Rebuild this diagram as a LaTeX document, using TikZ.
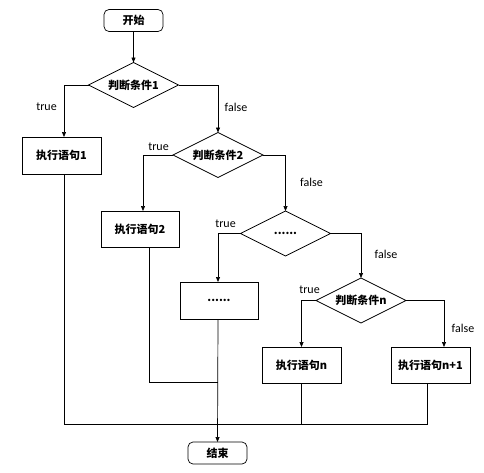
\documentclass[tikz,border=0pt]{standalone}
\usepackage{fontspec}
\setmainfont{Carlito}
\newfontfamily\cjk{Noto Sans CJK SC}
\usetikzlibrary{shapes.geometric,calc,arrows.meta}
\begin{document}
\begin{tikzpicture}[x=1pt,y=-1pt,
  every node/.style={inner sep=0pt,outer sep=0pt},
  term/.style={draw,rounded corners=5pt,minimum width=59pt,minimum height=22pt,font=\cjk\bfseries\fontsize{11}{12}\selectfont},
  cond/.style={draw,diamond,aspect=2,minimum width=90pt,minimum height=45pt,font=\cjk\bfseries\fontsize{11}{12}\selectfont},
  stmt/.style={draw,minimum width=79pt,minimum height=37pt,font=\cjk\bfseries\fontsize{11}{12}\selectfont},
  lbl/.style={font=\fontsize{12}{13}\selectfont},
  arr/.style={-{Triangle[length=5pt,width=4pt]}},
  line width=0.7pt]
\useasboundingbox (0,0) rectangle (484,472);
\node[term] (start) at (133.5,20.5) {开始};
\node[cond] (d1) at (133.5,85) {判断条件1};
\node[stmt] (b1) at (61.5,155.5) {执行语句1};
\node[cond] (d2) at (218,155) {判断条件2};
\node[stmt,minimum width=78pt,minimum height=36pt] (b2) at (140,229) {执行语句2};
\node[cond] (d3) at (285.5,233.5) {......};
\node[stmt,minimum width=78pt] (b3) at (219,300.5) {......};
\node[cond] (dn) at (361,300.5) {判断条件n};
\node[stmt,minimum height=36pt] (bn) at (301.5,365) {执行语句n};
\node[stmt,minimum height=36pt] (bn1) at (430.5,365) {执行语句n+1};
\node[term] (end) at (217.5,453) {结束};

\draw[arr] (start) -- (d1);
\draw[arr] (d1.west) -| ($(b1.north)+(2.5,0)$);
\draw[arr] (d1.east) -| (d2.north);
\draw[arr] (d2.west) -| ($(b2.north)+(3,0)$);
\draw[arr] (d2.east) -| (d3.north);
\draw[arr] (d3.west) -| ($(b3.north)+(-1,0)$);
\draw[arr] (d3.east) -| (dn.north);
\draw[arr] (dn.west) -| (bn.north);
\draw[arr] (dn.east) -| ($(bn1.north)+(13.5,0)$);

\coordinate (m2) at (218,382);
\coordinate (m1) at (427,424);
\draw ($(b2.south)+(9,0)$) |- (m2);
\draw ($(b1.south)+(2.5,0)$) |- (m1) -- ($(bn1.south)+(-3.5,0)$);
\draw (bn.south) -- (bn.south |- m1);
\draw[arr] ($(b3.south)+(-1,0)$) -- (end.north);

\node[lbl] at (46.5,107) {true};
\node[lbl] at (236,107) {false};
\node[lbl] at (158.5,147) {true};
\node[lbl] at (311.5,182) {false};
\node[lbl] at (225.5,224) {true};
\node[lbl] at (386,254) {false};
\node[lbl] at (309.5,290) {true};
\node[lbl] at (463,328) {false};
\end{tikzpicture}
\end{document}
